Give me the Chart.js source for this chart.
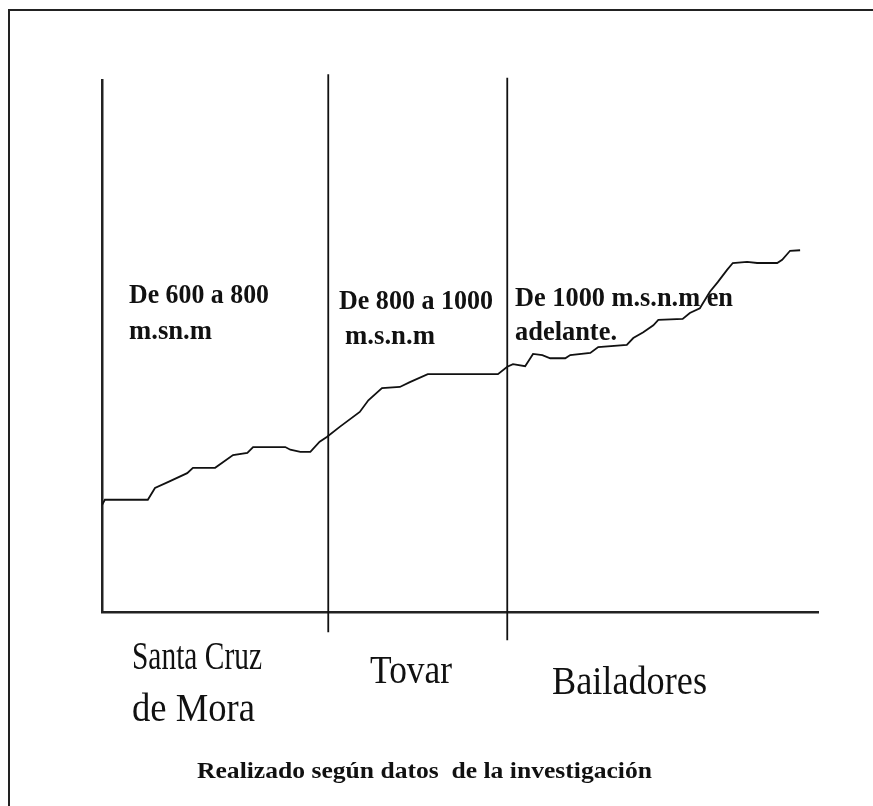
<!DOCTYPE html>
<html>
<head>
<meta charset="utf-8">
<script src="https://cdn.jsdelivr.net/npm/chart.js@4.4.1/dist/chart.umd.min.js"></script>
<style>
  body { margin: 0; background: #fff; }
  #wrap { position: relative; width: 873px; height: 806px; }
  #frame { position: absolute; left: 8px; top: 9px; right: 0; bottom: 0;
           border-left: 2px solid #222; border-top: 2px solid #222; }
</style>
</head>
<body>
<div id="wrap">
  <div id="frame"></div>
  <canvas id="myChart"></canvas>
</div>
<script>
// perfil del recorrido (distancia 0-100, altura relativa 0-100)
var distancia = [0, 0.4, 6.4, 7.4, 9.2, 11.9, 12.7, 15.8, 18.3, 20.3, 21.1, 25.6, 26.3, 27.7, 29.1,
  30.4, 31.4, 33.2, 36.0, 37.2, 39.1, 41.6, 43.0, 45.5, 55.3, 56.6, 57.4, 59.1, 60.2, 61.5,
  62.6, 64.7, 65.4, 68.2, 69.3, 73.3, 74.2, 75.6, 77.0, 77.7, 81.1, 82.1, 83.5, 84.9, 86.0,
  87.3, 88.1, 90.1, 91.5, 94.3, 95.0, 96.1, 97.5];
var altura = [20.1, 21.1, 21.1, 23.3, 24.4, 26.1, 27.1, 27.1, 29.5, 29.9, 31.0, 31.0, 30.5, 30.1, 30.1,
  32.0, 32.9, 34.8, 37.6, 39.8, 42.1, 42.3, 43.2, 44.7, 44.7, 46.1, 46.6, 46.2, 48.5, 48.3,
  47.7, 47.7, 48.3, 48.7, 49.8, 50.2, 51.5, 52.6, 53.9, 54.9, 55.1, 56.2, 57.1, 60.2, 62.0,
  64.3, 65.6, 65.8, 65.6, 65.6, 66.2, 67.9, 68.0];

// limites entre zonas (x) y extension de cada raya (y abajo, y arriba)
var limites = [31.6, 56.6];
var limiteAbajo = [-3.8, -5.3];
var limiteArriba = [101.1, 100.4];

var zonas = ['Santa Cruz\nde Mora', 'Tovar', 'Bailadores'];
var alturas = ['De 600 a 800\nm.sn.m', 'De 800 a 1000\n m.s.n.m', 'De 1000 m.s.n.m en\nadelante.'];
var nota = 'Realizado según datos  de la investigación';

var puntos = distancia.map(function (d, i) { return { x: d, y: altura[i] }; });

var datasets = [{
  data: puntos,
  borderColor: '#111',
  borderWidth: 1.8,
  pointRadius: 0,
  tension: 0,
  fill: false
}];
limites.forEach(function (lx, i) {
  datasets.push({
    data: [{ x: lx, y: limiteAbajo[i] }, { x: lx, y: limiteArriba[i] }],
    borderColor: '#111',
    borderWidth: 1.8,
    pointRadius: 0,
    clip: false
  });
});

// textos: [lineas, x, y, anchos de cada linea, fuente, interlineado]
var textos = [
  [alturas[0], 129, 303, [140, 83], 'bold 28px "Liberation Serif"', 36],
  [alturas[1], 339, 309, [154, 90], 'bold 28px "Liberation Serif"', 35],
  [alturas[2], 515, 306, [218, 102], 'bold 28px "Liberation Serif"', 34],
  [zonas[0], 132, 669, [130, 123], '41px "Liberation Serif"', 52],
  [zonas[1], 370, 683, [82], '41px "Liberation Serif"', 50],
  [zonas[2], 552, 694, [155], '41px "Liberation Serif"', 50],
  [nota, 197, 778, [455], 'bold 23px "Liberation Serif"', 30]
];

// estira o encoge cada linea hasta el ancho que tiene en el dibujo
var rotulos = {
  id: 'rotulos',
  afterDraw: function (chart) {
    var ctx = chart.ctx;
    ctx.save();
    ctx.fillStyle = '#111';
    ctx.textBaseline = 'alphabetic';
    textos.forEach(function (t) {
      ctx.font = t[4];
      t[0].split('\n').forEach(function (linea, k) {
        var w = t[3][k] || t[3][0];
        var real = ctx.measureText(linea.trim()).width;
        var dx = linea.charAt(0) == ' ' ? 6 : 0;
        ctx.save();
        ctx.translate(t[1] + dx, t[2] + k * t[5]);
        ctx.scale(w / real, 1);
        ctx.fillText(linea.trim(), 0, 0);
        ctx.restore();
      });
    });
    ctx.restore();
  }
};

function sinTamano(scale) {
  if (scale.isHorizontal()) scale.height = 0; else scale.width = 0;
}

var ctx = document.getElementById('myChart').getContext('2d');
var myChart = new Chart(ctx, {
  type: 'line',
  data: { datasets: datasets },
  options: {
    responsive: true,
    maintainAspectRatio: false,
    animation: false,
    layout: { padding: { left: 102, right: 55, top: 80, bottom: 194 } },
    plugins: { legend: { display: false }, tooltip: { enabled: false }, title: { display: false } },
    scales: {
      x: {
        type: 'linear', min: 0, max: 100,
        grid: { display: false },
        ticks: { display: false },
        border: { display: true, color: '#222', width: 2.5 },
        afterFit: sinTamano
      },
      y: {
        type: 'linear', min: 0, max: 100,
        grid: { display: false },
        ticks: { display: false },
        border: { display: true, color: '#222', width: 2.5 },
        afterFit: sinTamano
      }
    }
  },
  plugins: [rotulos]
});
</script>
</body>
</html>
